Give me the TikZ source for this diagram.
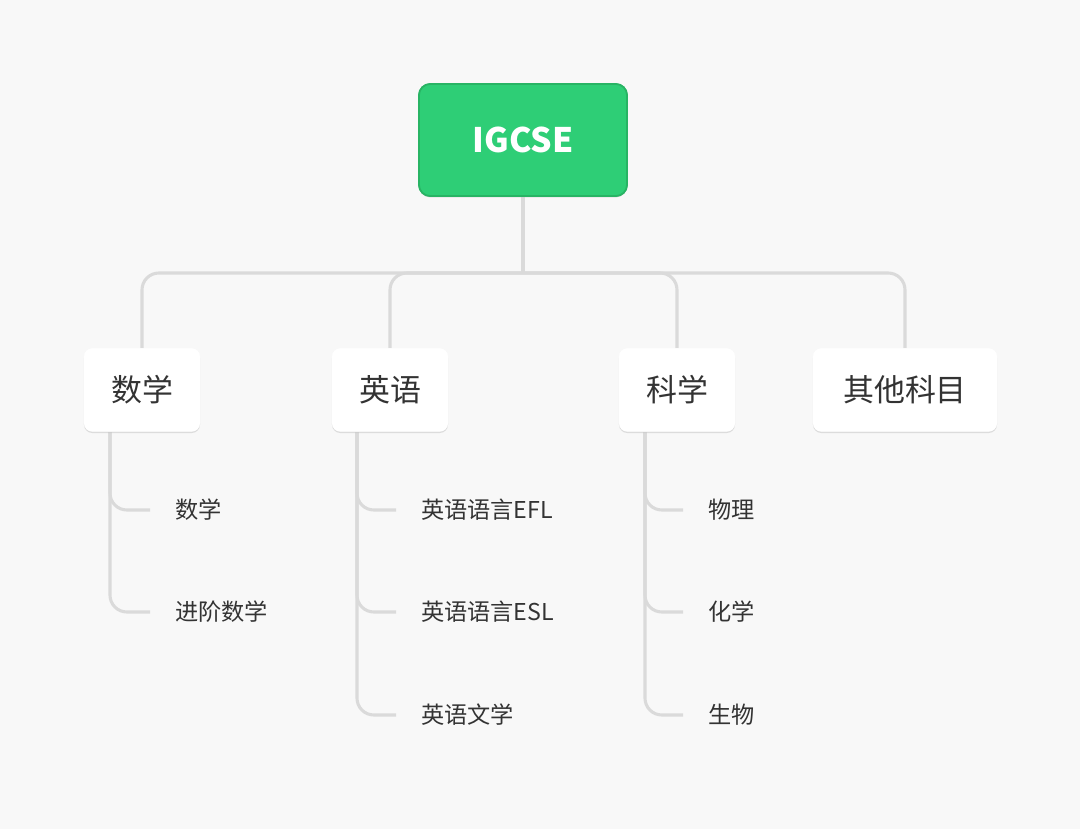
\documentclass[tikz,border=0pt]{standalone}
\usepackage{fontspec}
\setmainfont{Noto Sans CJK SC}
\usetikzlibrary{positioning,shadows,calc}
\definecolor{bg}{RGB}{248,248,248}
\definecolor{leaf}{RGB}{46,206,118}
\definecolor{leafdark}{RGB}{40,180,100}
\definecolor{wire}{RGB}{218,218,218}
\definecolor{label}{RGB}{51,51,51}

\begin{document}
\begin{tikzpicture}[
    x=0.025cm, y=-0.025cm,
    root/.style={rectangle, rounded corners=8pt, draw=leafdark, line width=1.2pt, fill=leaf, text=white, font=\bfseries\fontsize{24}{28}\selectfont, minimum width=5.2cm, minimum height=2.8cm, drop shadow={opacity=0.15, shadow xshift=0pt, shadow yshift=-1pt}},
    subject/.style={rectangle, rounded corners=6pt, fill=white, text=label, font=\fontsize{22}{26}\selectfont, minimum height=2.08cm, inner xsep=0.6cm, drop shadow={opacity=0.12, shadow xshift=0pt, shadow yshift=-1pt}},
    course/.style={anchor=west, text=label, font=\fontsize{16.5}{20}\selectfont, inner xsep=0.62cm, inner ysep=0pt},
    wire/.style={draw=wire, line width=2.2pt, rounded corners=12pt}
]
    \fill[bg] (0,0) rectangle (1080,829);

    % Top and subjects
    \node[root] (igcse) at (523,140) {IGCSE};
    \node[subject, minimum width=2.9cm] (math) at (142,390) {数学};
    \node[subject, minimum width=2.9cm] (eng) at (390,390) {英语};
    \node[subject, minimum width=2.9cm] (sci) at (677,390) {科学};
    \node[subject, minimum width=4.6cm] (other) at (905,390) {其他科目};
    \coordinate (bus) at (523,273);

    % Courses
    \node[course] (m1) at (150,510) {数学};
    \node[course] (m2) at (150,612) {进阶数学};
    \node[course] (e1) at (396,510) {英语语言EFL};
    \node[course] (e2) at (396,612) {英语语言ESL};
    \node[course] (e3) at (396,715) {英语文学};
    \node[course] (s1) at (683,510) {物理};
    \node[course] (s2) at (683,612) {化学};
    \node[course] (s3) at (683,715) {生物};

    \coordinate (mt) at (110,432);
    \coordinate (et) at (357,432);
    \coordinate (st) at (645,432);

    % Connectors
    \draw[wire] (igcse.south) -- (igcse.south |- bus);
    \draw[wire] (math.north) |- (bus) -| (other.north);
    \draw[wire] (eng.north) |- (bus) -| (sci.north);
    \draw[wire] (mt) |- (m1.west);
    \draw[wire] (mt) |- (m2.west);
    \draw[wire] (et) |- (e1.west);
    \draw[wire] (et) |- (e2.west);
    \draw[wire] (et) |- (e3.west);
    \draw[wire] (st) |- (s1.west);
    \draw[wire] (st) |- (s2.west);
    \draw[wire] (st) |- (s3.west);

    % Boxes again, over the wires
    \node[root] at (igcse) {IGCSE};
    \node[subject, minimum width=2.9cm] at (math) {数学};
    \node[subject, minimum width=2.9cm] at (eng) {英语};
    \node[subject, minimum width=2.9cm] at (sci) {科学};
    \node[subject, minimum width=4.6cm] at (other) {其他科目};
\end{tikzpicture}
\end{document}
